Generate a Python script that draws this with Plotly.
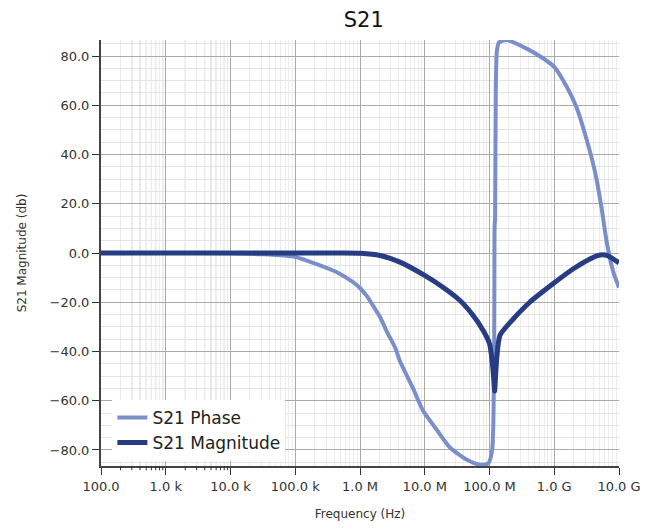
import plotly.graph_objects as go

# S21 sweep values
phase_freq = [1e2, 1e3, 1e4, 3e4, 1e5, 2.4e5, 4.4e5, 7.8e5, 1e6, 1.28e6, 1.83e6,
              2.04e6, 2.61e6, 3.5e6, 4.15e6, 6.6e6, 9.4e6, 1.55e7, 2.45e7, 4.5e7,
              7.1e7, 9.5e7, 1.1e8, 1.2e8, 1.22e8, 1.25e8, 1.3e8, 1.4e8, 1.84e8,
              3.75e8, 6.8e8, 1e9, 1.56e9, 2.22e9, 3.17e9, 4.26e9, 5.4e9, 6.46e9,
              8.17e9, 1e10]
phase_deg = [0.0, 0.0, -0.1, -0.5, -1.6, -5.0, -7.8, -11.8, -14.2, -17.5, -24.0,
             -26.0, -32.0, -38.5, -44.0, -55.0, -64.0, -72.0, -79.0, -84.0,
             -86.0, -85.5, -80.0, 11.0, 14.0, 66.0, 82.0, 85.5, 86.5,
             83.0, 79.0, 75.6, 67.5, 59.0, 46.0, 33.0, 18.0, 4.4,
             -7.7, -14.0]

mag_freq = [1e2, 1e3, 1e4, 1e5, 5e5, 1e6, 2.04e6, 4.15e6, 1.01e7, 1.91e7, 3.5e7,
            5.56e7, 7.94e7, 1e8, 1.1e8, 1.17e8, 1.2e8, 1.24e8, 1.3e8, 1.45e8,
            2.31e8, 4.22e8, 9.56e8, 1.95e9, 3.56e9, 5.09e9, 6.53e9, 1e10]
mag_db = [0.0, 0.0, 0.0, 0.0, 0.0, -0.1, -1.0, -3.7, -9.2, -13.9, -19.3,
          -25.3, -31.4, -36.8, -44.0, -52.0, -56.0, -50.0, -42.0, -33.4,
          -26.9, -19.9, -12.5, -6.5, -2.4, -0.8, -1.0, -4.0]

x_tickvals = [1e2, 1e3, 1e4, 1e5, 1e6, 1e7, 1e8, 1e9, 1e10]
x_ticktext = ["100.0", "1.0 k", "10.0 k", "100.0 k", "1.0 M", "10.0 M",
              "100.0 M", "1.0 G", "10.0 G"]
y_tickvals = [-80, -60, -40, -20, 0, 20, 40, 60, 80]

# the two lowest decades carry darker minor grid and minor ticks
low_minor = [k * 10 ** d for d in (2, 3) for k in range(2, 10)]

font_family = "DejaVu Sans"

fig = go.Figure()

fig.add_trace(go.Scatter(
    x=phase_freq, y=phase_deg, mode='lines', name='S21 Phase',
    line=dict(color='#7a8fc9', width=4, shape='spline', smoothing=0.6)
))
fig.add_trace(go.Scatter(
    x=mag_freq, y=mag_db, mode='lines', name='S21 Magnitude',
    line=dict(color='#283c84', width=5, shape='spline', smoothing=0.6)
))

shapes = []
for f in low_minor:
    shapes.append(dict(type='line', xref='x', yref='paper', x0=f, x1=f, y0=0, y1=1,
                       line=dict(color='#cccccc', width=1), layer='below'))
    shapes.append(dict(type='line', xref='x', yref='paper', x0=f, x1=f, y0=0, y1=-0.01,
                       line=dict(color='#333333', width=1)))

fig.update_layout(
    width=641,
    height=513,
    margin=dict(l=93, r=30, t=32, b=55),
    paper_bgcolor='white',
    plot_bgcolor='white',
    font=dict(family=font_family, color='#333333'),
    title=dict(text='S21', x=0.555, xanchor='center', y=0.977, yanchor='middle',
               font=dict(size=21, color='#111111')),
    showlegend=True,
    legend=dict(x=0.022, y=0.012, xanchor='left', yanchor='bottom', itemwidth=30,
                bgcolor='white', font=dict(size=17, color='#222222'),
                tracegroupgap=2),
    shapes=shapes,
)

fig.update_xaxes(
    type='log',
    range=[2, 10],
    automargin=False,
    tickvals=x_tickvals,
    ticktext=x_ticktext,
    tickfont=dict(size=13, color='#333333'),
    ticks='outside', ticklen=7, tickcolor='#333333',
    showline=True, linecolor='#444444', linewidth=2,
    showgrid=True, gridcolor='#aaaaaa', gridwidth=1,
    minor=dict(showgrid=True, gridcolor='#ececec', dtick='D1', gridwidth=1),
    title=dict(text='Frequency (Hz)', font=dict(size=12, color='#333333'), standoff=17),
    zeroline=False,
)

fig.update_yaxes(
    range=[-86.5, 86.5],
    automargin=False,
    tickvals=y_tickvals,
    tickformat='.1f',
    tickfont=dict(size=13, color='#333333'),
    ticks='outside', ticklen=7, tickcolor='#333333',
    showline=True, linecolor='#444444', linewidth=2,
    showgrid=True, gridcolor='#aaaaaa', gridwidth=1,
    minor=dict(showgrid=True, gridcolor='#e4e4e4', dtick=5, tick0=0),
    title=dict(text='S21 Magnitude (db)', font=dict(size=12, color='#333333'), standoff=20),
    zeroline=False,
)

fig.write_html("out.html")
